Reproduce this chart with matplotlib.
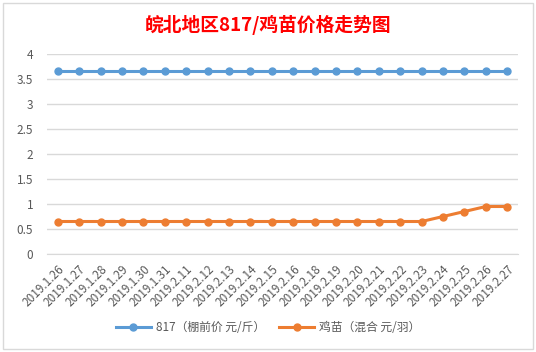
import matplotlib.pyplot as plt
import numpy as np
from matplotlib.patches import Rectangle

plt.rcParams['font.family'] = ['Noto Sans CJK SC', 'DejaVu Sans']

dates = ['2019.1.26', '2019.1.27', '2019.1.28', '2019.1.29', '2019.1.30',
         '2019.1.31', '2019.2.11', '2019.2.12', '2019.2.13', '2019.2.14',
         '2019.2.15', '2019.2.16', '2019.2.18', '2019.2.19', '2019.2.20',
         '2019.2.21', '2019.2.22', '2019.2.23', '2019.2.24', '2019.2.25',
         '2019.2.26', '2019.2.27']
price_817 = [3.65] * 22
price_chick = [0.65] * 18 + [0.75, 0.85, 0.95, 0.95]

name_817 = '817（棚前价 元/斤）'
name_chick = '鸡苗（混合 元/羽）'

fig = plt.figure(figsize=(5.36, 3.52), dpi=100)
fig.patches.append(Rectangle((0.006, 0.009), 0.988, 0.982, transform=fig.transFigure,
                             fill=False, edgecolor='#d9d9d9', linewidth=1))

ax = fig.add_axes([0.0877, 0.2784, 0.8787, 0.5682])
x = np.arange(len(dates))
ax.plot(x, price_817, color='#5b9bd5', linewidth=2.2, marker='o', markersize=5,
        label=name_817)
ax.plot(x, price_chick, color='#ed7d31', linewidth=2.2, marker='o', markersize=5,
        label=name_chick)

ax.set_xlim(-0.5, len(dates) - 0.5)
ax.set_ylim(0, 4)
ax.set_yticks(np.arange(0, 4.01, 0.5))
ax.set_yticklabels(['0', '0.5', '1', '1.5', '2', '2.5', '3', '3.5', '4'])
ax.set_xticks(x)
ax.set_xticklabels(dates, rotation=45, ha='right', rotation_mode='anchor')
ax.tick_params(axis='both', length=0, labelsize=8.5, colors='#595959', pad=6)
ax.tick_params(axis='y', pad=10)
ax.grid(axis='y', color='#d9d9d9', linewidth=1)
ax.set_axisbelow(True)
for s in ['left', 'right', 'top']:
    ax.spines[s].set_visible(False)
ax.spines['bottom'].set_color('#d9d9d9')

fig.text(0.5, 0.93, '皖北地区817/鸡苗价格走势图', ha='center', va='center',
         color='#ff0000', fontsize=13.5, fontweight='bold')

fig.legend(loc='center', bbox_to_anchor=(0.5, 0.07), ncol=2, frameon=False,
           fontsize=8.5, labelcolor='#595959', handlelength=3, handletextpad=0.4,
           columnspacing=1.2)

fig.savefig('out.png', dpi=100)
